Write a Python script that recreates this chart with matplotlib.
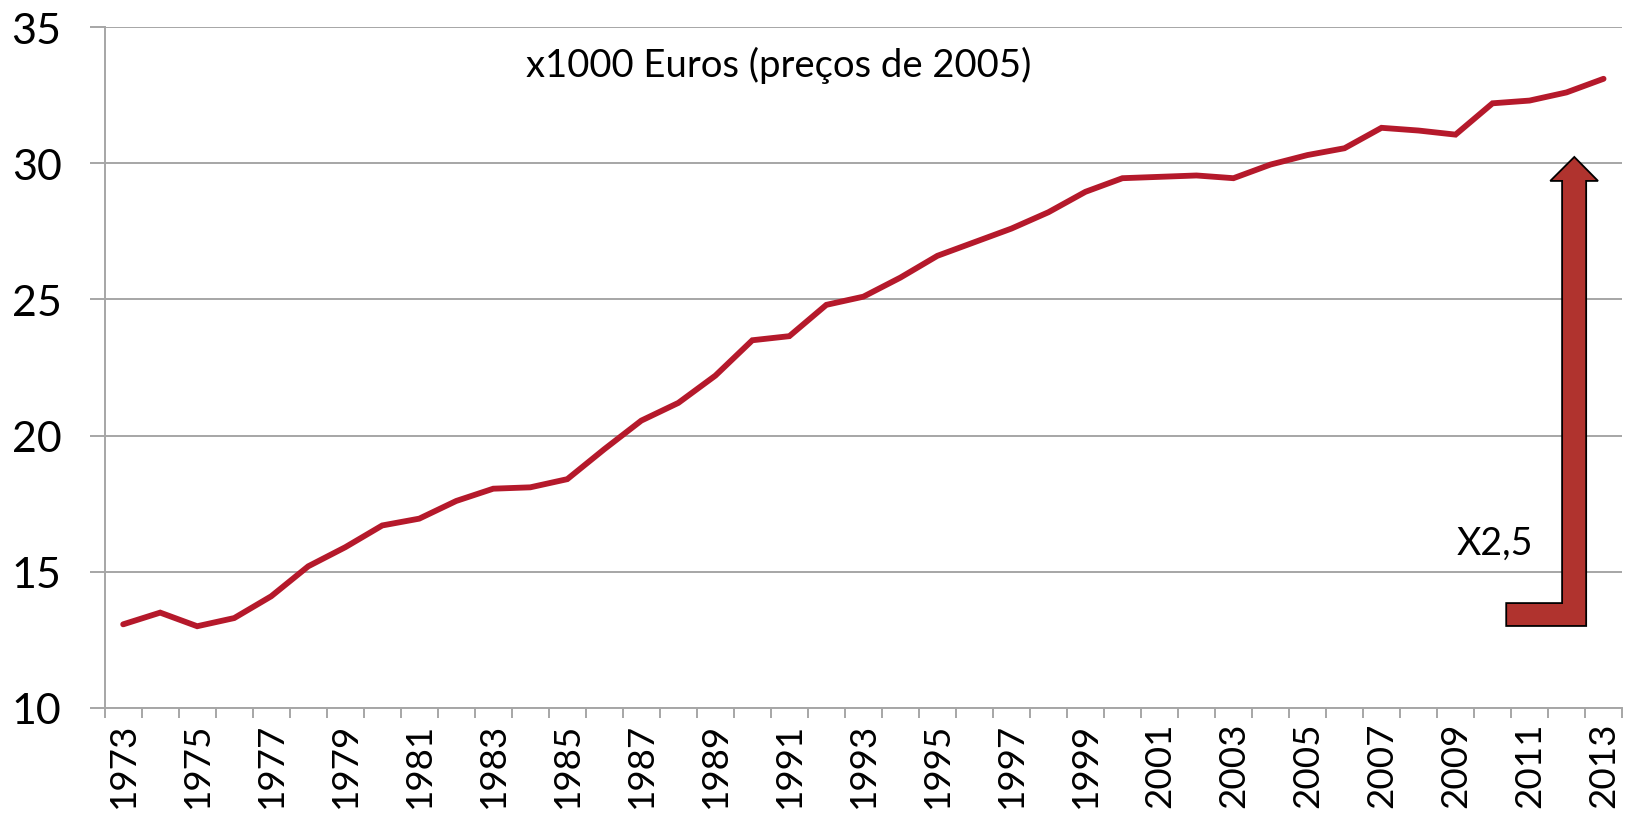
import matplotlib.pyplot as plt
from matplotlib.patches import Polygon

plt.rcParams['font.family'] = ['Lato', 'DejaVu Sans']

years = list(range(1973, 2014))
values = [13.07, 13.5, 13.0, 13.3, 14.1, 15.2, 15.9, 16.7, 16.95, 17.6,
          18.05, 18.1, 18.4, 19.5, 20.55, 21.2, 22.2, 23.5, 23.65, 24.8,
          25.1, 25.8, 26.6, 27.1, 27.6, 28.2, 28.95, 29.45, 29.5, 29.55,
          29.45, 29.95, 30.3, 30.55, 31.3, 31.2, 31.05, 32.2, 32.3, 32.6,
          33.1]
y_ticks = [10, 15, 20, 25, 30, 35]
label_years = years[::2]

unit_text = 'x1000 Euros (preços de 2005)'
factor_text = 'X2,5'

grid_col = '#a6a6a6'
line_col = '#b5192b'
arrow_col = '#b0332e'

fig = plt.figure(figsize=(16.33, 8.37), dpi=100)
ax = fig.add_axes([0.0641, 0.153, 0.9292, 0.8135])

ax.plot(years, values, color=line_col, linewidth=4.2, solid_capstyle='round',
        solid_joinstyle='miter', zorder=3)

ax.set_xlim(1972.5, 2013.5)
ax.set_ylim(10, 35)

# gridlines and axis styling
ax.set_yticks(y_ticks)
ax.yaxis.grid(True, color=grid_col, linewidth=1.4)
ax.set_axisbelow(True)
for s in ['top', 'right']:
    ax.spines[s].set_visible(False)
ax.spines['left'].set_color(grid_col)
ax.spines['bottom'].set_color(grid_col)
ax.spines['left'].set_linewidth(1.4)
ax.spines['bottom'].set_linewidth(1.4)

ax.set_xticks(label_years)
ax.set_xticklabels([str(y) for y in label_years], rotation=90)
ax.set_xticks([y - 0.5 for y in years] + [2013.5], minor=True)
ax.tick_params(axis='x', which='major', length=0, pad=10, labelsize=26.5)
ax.tick_params(axis='x', which='minor', length=7.5, width=1.4, color=grid_col)
ax.tick_params(axis='y', length=11, width=1.4, color=grid_col, pad=20,
               labelsize=31)

ax.text(0.2777, 0.9457, unit_text, transform=ax.transAxes, ha='left',
        va='center', fontsize=27.5)
ax.text(0.891, 0.2423, factor_text, transform=ax.transAxes, ha='left',
        va='center', fontsize=27)

# bent arrow
arrow_pts = [(2012.21, 30.23), (2012.85, 29.35), (2012.53, 29.35),
             (2012.53, 13.01), (2010.37, 13.01), (2010.37, 13.85),
             (2011.88, 13.85), (2011.88, 29.35), (2011.56, 29.35)]
ax.add_patch(Polygon(arrow_pts, closed=True, facecolor=arrow_col,
                     edgecolor='black', linewidth=1.3, zorder=4))

fig.savefig('out.png', dpi=100)
